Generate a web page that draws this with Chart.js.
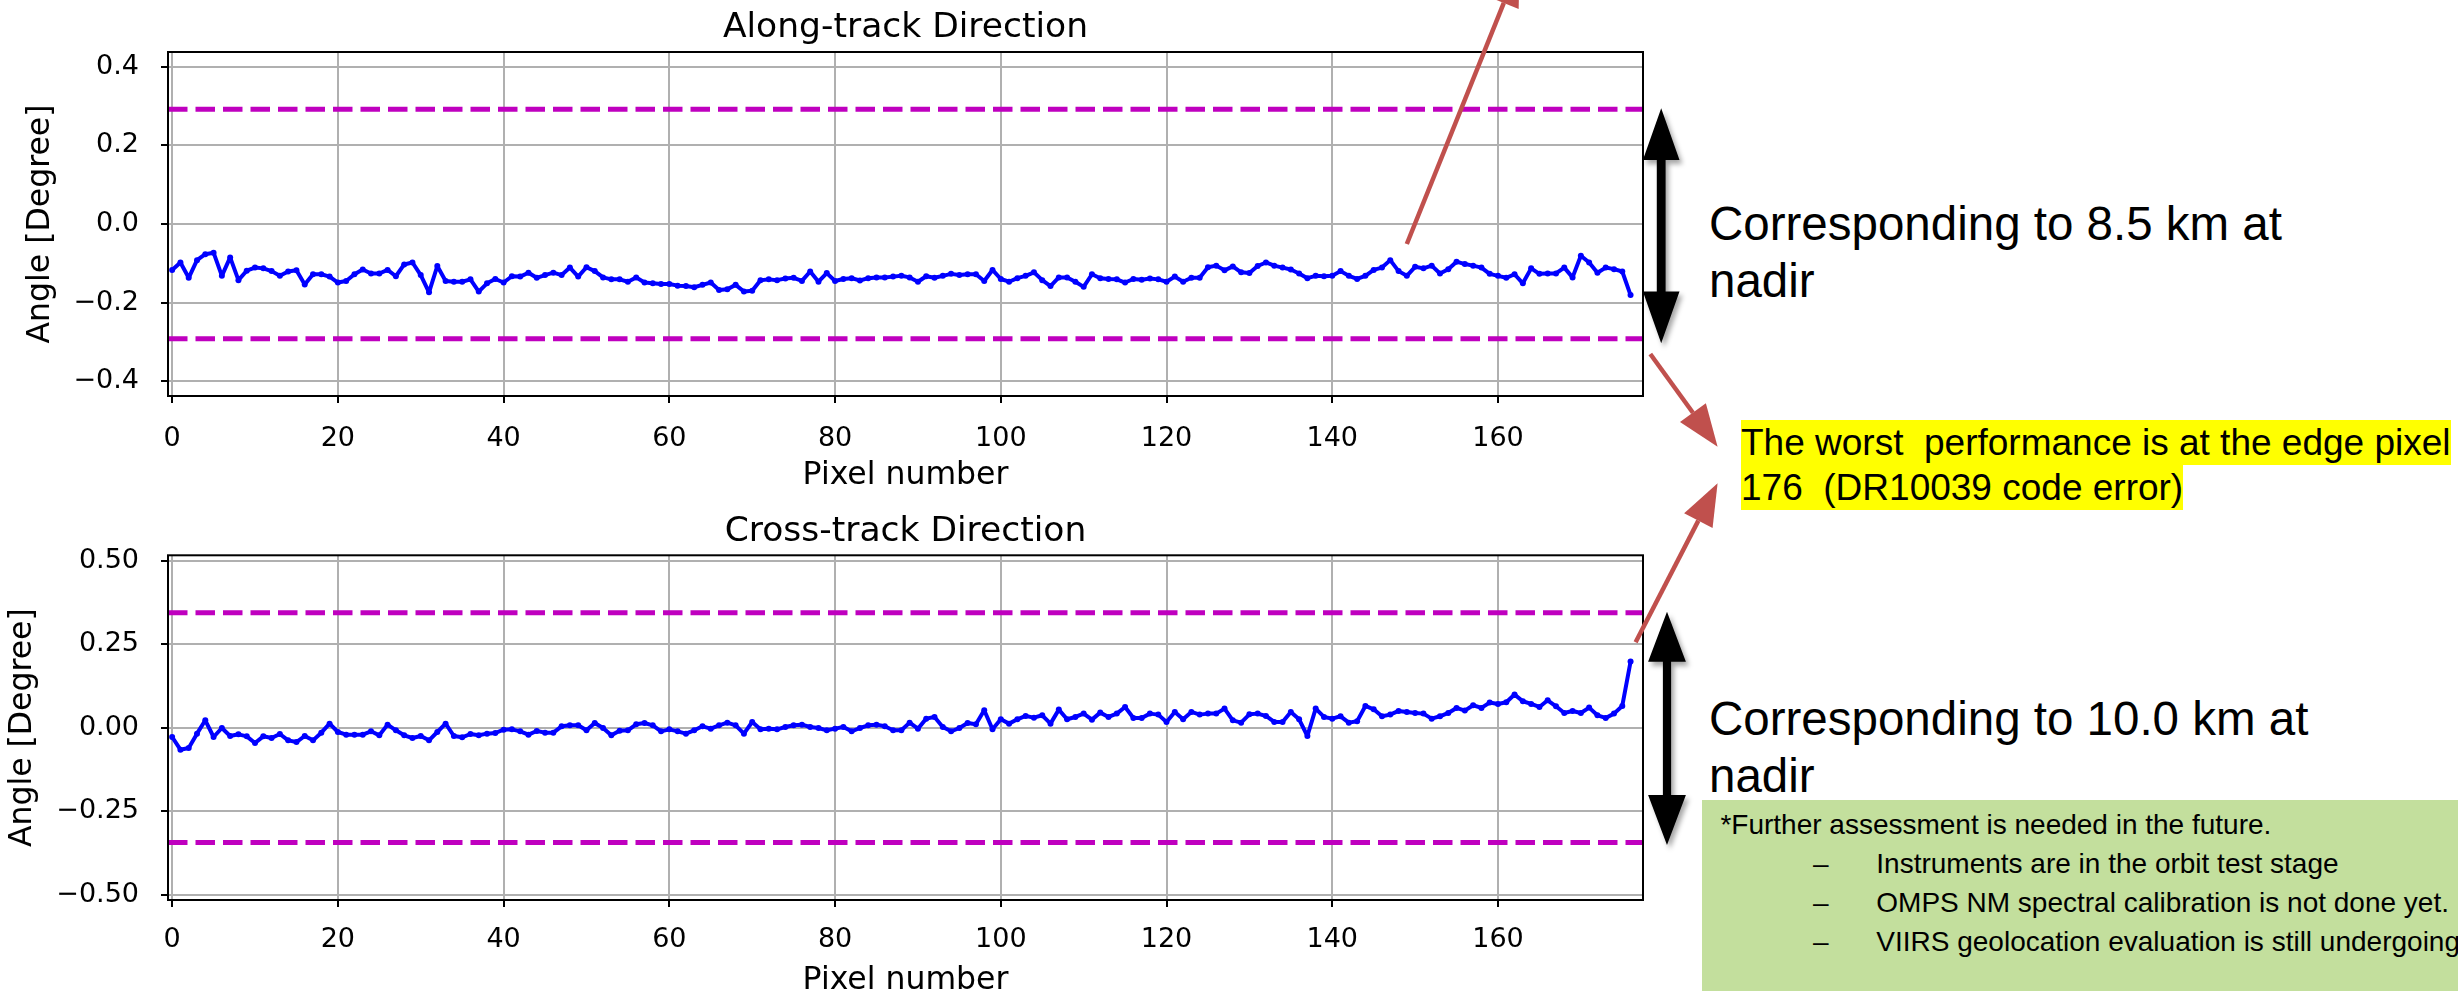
<!DOCTYPE html>
<html>
<head>
<meta charset="utf-8">
<title>Along-track and cross-track angle differences by pixel</title>
<script src="https://cdn.jsdelivr.net/npm/chart.js@4.4.1/dist/chart.umd.min.js"></script>
<style>
  html, body { margin: 0; padding: 0; background: #ffffff; }
  #page { position: relative; width: 2458px; height: 991px; overflow: hidden; background: #ffffff; }
  .plot { position: absolute; left: 0; }
  #alongWrap { top: 0; }
  #crossWrap { top: 495px; }
  .note { position: absolute; font-family: "Liberation Sans", Arial, sans-serif; color: #000; white-space: nowrap; }
  .big { left: 1709px; font-size: 47.5px; line-height: 57.5px; }
  #noteAlong { top: 194.8px; }
  #noteCross { top: 689.8px; }
  #edgeNote { left: 1741px; top: 420px; font-size: 37px; }
  #edgeNote .hl { display: block; width: fit-content; background: #ffff00; height: 45px; line-height: 45px; white-space: pre; }
  #assess { left: 1702px; top: 800px; width: 756px; height: 191px; background: #c3df9d; overflow: hidden;
            font-size: 28px; line-height: 39px; padding-top: 4.8px; box-sizing: border-box; }
  #assess .aline { position: relative; height: 39px; }
  #assess .lead { position: absolute; left: 18.4px; }
  #assess .dash { position: absolute; left: 111px; }
  #assess .item { position: absolute; left: 174.3px; }
  #marks { position: absolute; left: 0; top: 0; pointer-events: none; }
</style>
</head>
<body>
<div id="page">
  <div class="plot" id="alongWrap"><canvas id="alongChart" width="1700" height="500"></canvas></div>
  <div class="plot" id="crossWrap"><canvas id="crossChart" width="1700" height="510"></canvas></div>

  <div class="note big" id="noteAlong">Corresponding to 8.5 km at<br>nadir</div>
  <div class="note big" id="noteCross">Corresponding to 10.0 km at<br>nadir</div>

  <div class="note" id="edgeNote">
    <span class="hl">The worst  performance is at the edge pixel</span>
    <span class="hl">176  (DR10039 code error)</span>
  </div>

  <div class="note" id="assess">
    <div class="aline"><span class="lead">*Further assessment is needed in the future.</span></div>
    <div class="aline"><span class="dash">–</span><span class="item">Instruments are in the orbit test stage</span></div>
    <div class="aline"><span class="dash">–</span><span class="item">OMPS NM spectral calibration is not done yet.</span></div>
    <div class="aline"><span class="dash">–</span><span class="item">VIIRS geolocation evaluation is still undergoing</span></div>
  </div>

  <svg id="marks" width="2458" height="991" xmlns="http://www.w3.org/2000/svg">
    <defs>
      <filter id="shade" x="-60%" y="-20%" width="220%" height="140%">
        <feDropShadow dx="3" dy="4" stdDeviation="2.5" flood-color="#000" flood-opacity="0.35"/>
      </filter>
    </defs>
  </svg>
</div>

<script>
// Angle difference (degrees) for each detector pixel, 0..176
const ALONG_TRACK = [
  -0.117, -0.098, -0.137, -0.092, -0.077, -0.073, -0.132, -0.085, -0.143, -0.119,
  -0.111, -0.113, -0.120, -0.132, -0.121, -0.118, -0.154, -0.128, -0.128, -0.134,
  -0.149, -0.145, -0.128, -0.116, -0.126, -0.126, -0.117, -0.133, -0.103, -0.098,
  -0.130, -0.174, -0.107, -0.145, -0.147, -0.147, -0.141, -0.172, -0.151, -0.140,
  -0.149, -0.133, -0.134, -0.124, -0.137, -0.130, -0.124, -0.130, -0.111, -0.134,
  -0.110, -0.120, -0.136, -0.141, -0.141, -0.147, -0.136, -0.149, -0.151, -0.153,
  -0.153, -0.157, -0.158, -0.161, -0.155, -0.149, -0.168, -0.166, -0.155, -0.172,
  -0.170, -0.143, -0.141, -0.143, -0.139, -0.137, -0.145, -0.121, -0.147, -0.125,
  -0.145, -0.140, -0.138, -0.144, -0.138, -0.136, -0.136, -0.134, -0.132, -0.136,
  -0.147, -0.133, -0.137, -0.132, -0.127, -0.130, -0.128, -0.128, -0.145, -0.117,
  -0.140, -0.147, -0.138, -0.132, -0.123, -0.143, -0.158, -0.136, -0.136, -0.147,
  -0.160, -0.128, -0.138, -0.140, -0.141, -0.149, -0.140, -0.142, -0.139, -0.141,
  -0.147, -0.134, -0.147, -0.137, -0.137, -0.110, -0.106, -0.118, -0.108, -0.123,
  -0.125, -0.107, -0.098, -0.106, -0.111, -0.116, -0.126, -0.138, -0.132, -0.133,
  -0.132, -0.120, -0.132, -0.140, -0.132, -0.117, -0.111, -0.092, -0.120, -0.132,
  -0.109, -0.113, -0.106, -0.126, -0.115, -0.096, -0.102, -0.106, -0.111, -0.127,
  -0.132, -0.137, -0.128, -0.151, -0.113, -0.127, -0.126, -0.126, -0.111, -0.136,
  -0.081, -0.098, -0.124, -0.111, -0.115, -0.121, -0.181
];

const CROSS_TRACK = [
  -0.028, -0.066, -0.061, -0.018,  0.022, -0.028, -0.001, -0.025, -0.020, -0.026,
  -0.046, -0.026, -0.031, -0.019, -0.038, -0.043, -0.025, -0.038, -0.015,  0.012,
  -0.013, -0.021, -0.021, -0.021, -0.011, -0.023,  0.009, -0.008, -0.023, -0.031,
  -0.025, -0.038, -0.013,  0.012, -0.025, -0.029, -0.019, -0.023, -0.018, -0.016,
  -0.006, -0.005, -0.011, -0.021, -0.010, -0.015, -0.015,  0.004,  0.007,  0.007,
  -0.008,  0.014, -0.001, -0.023, -0.009, -0.008,  0.010,  0.014,  0.007, -0.011,
  -0.005, -0.011, -0.018, -0.008,  0.004, -0.003,  0.007,  0.015,  0.007, -0.018,
   0.017, -0.005, -0.003, -0.005,  0.002,  0.007,  0.009,  0.002, -0.001, -0.008,
  -0.003,  0.002, -0.011, -0.001,  0.007,  0.009,  0.004, -0.008, -0.008,  0.015,
  -0.003,  0.027,  0.032,  0.002, -0.011, -0.001,  0.014,  0.010,  0.052, -0.005,
   0.025,  0.012,  0.025,  0.035,  0.030,  0.037,  0.012,  0.054,  0.025,  0.032,
   0.042,  0.024,  0.045,  0.032,  0.042,  0.062,  0.029,  0.029,  0.042,  0.039,
   0.017,  0.047,  0.025,  0.047,  0.039,  0.042,  0.042,  0.057,  0.022,  0.015,
   0.040,  0.042,  0.035,  0.017,  0.017,  0.047,  0.025, -0.025,  0.057,  0.032,
   0.027,  0.034,  0.015,  0.019,  0.065,  0.055,  0.034,  0.039,  0.050,  0.047,
   0.044,  0.042,  0.027,  0.034,  0.044,  0.059,  0.051,  0.067,  0.059,  0.075,
   0.071,  0.076,  0.099,  0.079,  0.071,  0.062,  0.082,  0.064,  0.044,  0.050,
   0.044,  0.060,  0.037,  0.029,  0.042,  0.065,  0.198
];

// Angular tolerance equivalent to 8.5 km (along) and 10.0 km (cross) at nadir
const ALONG_LIMIT = 0.2923;
const CROSS_LIMIT = 0.3439;

// Axis ticks and ranges
const X_TICKS = [0, 20, 40, 60, 80, 100, 120, 140, 160];
const ALONG_Y_TICKS = [-0.4, -0.2, 0.0, 0.2, 0.4];
const CROSS_Y_TICKS = [-0.5, -0.25, 0.0, 0.25, 0.5];
const X_RANGE = [-0.5, 177.5];
const ALONG_Y_RANGE = [-0.438, 0.438];
const CROSS_Y_RANGE = [-0.516, 0.516];

const PIXELS = ALONG_TRACK.map((_, i) => i);

const MPL_FONT = 'DejaVu Sans';
const fmtTick = digits => v => Number(v).toFixed(digits).replace('-', '\u2212');

// Axes frame (all four spines), drawn above the data
const framePlugin = {
  id: 'frame',
  afterDatasetsDraw(chart) {
    const { ctx, chartArea: a } = chart;
    ctx.save();
    ctx.strokeStyle = '#000';
    ctx.lineWidth = 2;
    ctx.strokeRect(a.left, a.top, a.right - a.left, a.bottom - a.top);
    ctx.restore();
  }
};

function limitLine(value) {
  return {
    data: [{ x: X_RANGE[0], y: value }, { x: X_RANGE[1], y: value }],
    borderColor: '#bf00bf',
    borderWidth: 5,
    borderDash: [19.5, 8],
    borderCapStyle: 'butt',
    pointRadius: 0,
    fill: false
  };
}

function makePanel(canvasId, p) {
  return new Chart(document.getElementById(canvasId), {
    type: 'line',
    data: {
      datasets: [
        {
          data: PIXELS.map((x, i) => ({ x, y: p.values[i] })),
          borderColor: '#0000ff',
          backgroundColor: '#0000ff',
          borderWidth: 4,
          borderJoinStyle: 'round',
          pointRadius: 3,
          pointBorderWidth: 0,
          pointBackgroundColor: '#0000ff',
          pointHoverRadius: 3,
          tension: 0,
          fill: false
        },
        limitLine(p.limit),
        limitLine(-p.limit)
      ]
    },
    options: {
      responsive: false,
      devicePixelRatio: 1,
      animation: false,
      events: [],
      layout: { padding: { left: 0, right: 57, top: 0, bottom: 0 } },
      plugins: {
        legend: { display: false },
        tooltip: { enabled: false },
        title: {
          display: true,
          text: p.title,
          color: '#000',
          fullSize: false,
          font: { family: MPL_FONT, size: 34.5, weight: 'normal', lineHeight: 1.2 },
          padding: p.titlePad
        }
      },
      scales: {
        x: {
          type: 'linear',
          position: 'bottom',
          min: X_RANGE[0],
          max: X_RANGE[1],
          afterBuildTicks: s => { s.ticks = X_TICKS.map(v => ({ value: v })); },
          afterFit: s => { s.height = p.xBand; },
          ticks: {
            color: '#000',
            font: { family: MPL_FONT, size: 27 },
            padding: p.xTickPad,
            autoSkip: false,
            maxRotation: 0,
            minRotation: 0,
            callback: v => String(v)
          },
          grid: { color: '#b0b0b0', lineWidth: 2, drawTicks: true, tickLength: 7, tickColor: '#000', tickWidth: 2 },
          border: { display: false },
          title: {
            display: true,
            text: 'Pixel number',
            color: '#000',
            font: { family: MPL_FONT, size: 31.5, lineHeight: 1.2 },
            padding: { top: 0, bottom: 5.5 }
          }
        },
        y: {
          type: 'linear',
          min: p.yRange[0],
          max: p.yRange[1],
          afterBuildTicks: s => { s.ticks = p.yTicks.map(v => ({ value: v })); },
          afterFit: s => { s.width = 168; },
          ticks: {
            color: '#000',
            font: { family: MPL_FONT, size: 27 },
            padding: 22,
            autoSkip: false,
            callback: fmtTick(p.digits)
          },
          grid: { color: '#b0b0b0', lineWidth: 2, drawTicks: true, tickLength: 7, tickColor: '#000', tickWidth: 2 },
          border: { display: false },
          title: {
            display: true,
            text: 'Angle [Degree]',
            color: '#000',
            font: { family: MPL_FONT, size: 31.5, lineHeight: 1.2 },
            padding: { top: p.yTitlePad, bottom: 0 }
          }
        }
      }
    },
    plugins: [framePlugin]
  });
}

makePanel('alongChart', {
  title: 'Along-track Direction',
  values: ALONG_TRACK,
  limit: ALONG_LIMIT,
  yRange: ALONG_Y_RANGE,
  yTicks: ALONG_Y_TICKS,
  digits: 1,
  titlePad: { top: 7.05, bottom: 3.55 },
  xBand: 104,
  xTickPad: 19.5,
  yTitlePad: 22
});

makePanel('crossChart', {
  title: 'Cross-track Direction',
  values: CROSS_TRACK,
  limit: CROSS_LIMIT,
  yRange: CROSS_Y_RANGE,
  yTicks: CROSS_Y_TICKS,
  digits: 2,
  titlePad: { top: 16.05, bottom: 2.85 },
  xBand: 105,
  xTickPad: 17,
  yTitlePad: 4.3
});

// Callout arrows beside the panels
(function drawCallouts() {
  const svg = document.getElementById('marks');
  const NS = 'http://www.w3.org/2000/svg';
  const add = (tag, attrs) => {
    const el = document.createElementNS(NS, tag);
    Object.entries(attrs).forEach(([k, v]) => el.setAttribute(k, v));
    svg.appendChild(el);
    return el;
  };

  // Vertical double-headed span arrow
  function spanArrow(cx, yTop, yBottom, headHalf, headLen, shaftHalf) {
    const pts = [
      [cx, yTop], [cx + headHalf, yTop + headLen], [cx + shaftHalf, yTop + headLen],
      [cx + shaftHalf, yBottom - headLen], [cx + headHalf, yBottom - headLen], [cx, yBottom],
      [cx - headHalf, yBottom - headLen], [cx - shaftHalf, yBottom - headLen],
      [cx - shaftHalf, yTop + headLen], [cx - headHalf, yTop + headLen]
    ];
    add('polygon', { points: pts.map(p => p.join(',')).join(' '), fill: '#000', filter: 'url(#shade)' });
  }

  // Single-headed pointer arrow
  function pointer(x1, y1, x2, y2) {
    const L = 42, W = 16;
    const len = Math.hypot(x2 - x1, y2 - y1);
    const ux = (x2 - x1) / len, uy = (y2 - y1) / len;
    const bx = x2 - ux * L, by = y2 - uy * L;
    add('line', { x1, y1, x2: bx, y2: by, stroke: '#c0504d', 'stroke-width': 4.5 });
    const pts = [[x2, y2], [bx - uy * W, by + ux * W], [bx + uy * W, by - ux * W]];
    add('polygon', { points: pts.map(p => p.join(',')).join(' '), fill: '#c0504d' });
  }

  spanArrow(1661.2, 108.3, 343.3, 18.3, 51.7, 4.4);
  spanArrow(1667, 611.7, 845, 18.9, 50, 4.1);

  pointer(1406.8, 244, 1519.5, -36);
  pointer(1650.3, 354, 1717.6, 446.7);
  pointer(1635.6, 642.3, 1717.6, 483.3);
})();
</script>
</body>
</html>
